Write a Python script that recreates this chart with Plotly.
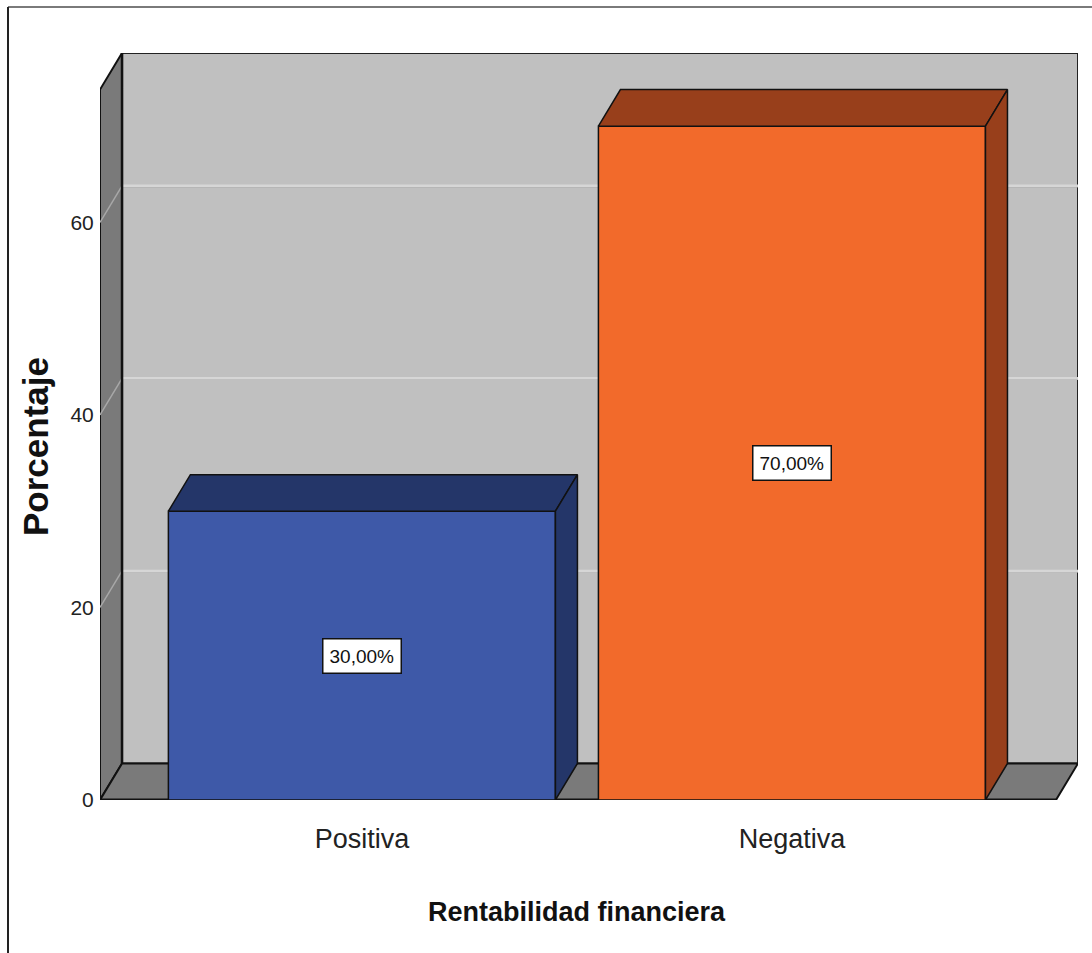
import plotly.graph_objects as go

# ---- data ----
categories = ["Positiva", "Negativa"]
percentages = [30.0, 70.0]
value_labels = ["30,00%", "70,00%"]
y_ticks = [0, 20, 40, 60]
x_title = "Rentabilidad financiera"
y_title = "Porcentaje"

# ---- style / layout constants ----
front_colors = ["#3E59A8", "#F26A2B"]
dark_colors = ["#243669", "#983F1B"]
WALL = "#C0C0C0"
SIDE = "#7A7A7A"
GRID = "#D6D6D6"
BAR_W = 0.9
DX, DY = 0.0512, 3.8          # 3-D depth offset in axis units
X0, X1 = -0.609, 1.614        # front plane extent (category units)
Y_TOP = 73.8                  # front plane top (percent units)
XR = [X0, X1 + DX]
YR = [0, Y_TOP + DY]
FONT = "Liberation Sans, Arial, sans-serif"

xs = list(range(len(categories)))


def path(pts):
    return "M " + " L ".join(f"{x},{y}" for x, y in pts) + " Z"


shapes = []
# back wall
shapes.append(dict(type="path", xref="x", yref="y", layer="below",
                   path=path([(X0 + DX, DY), (X1 + DX, DY), (X1 + DX, Y_TOP + DY), (X0 + DX, Y_TOP + DY)]),
                   fillcolor=WALL, line=dict(color="#222222", width=2)))
# back-wall gridlines (light band with a soft shadow)
for g in y_ticks[1:]:
    shapes.append(dict(type="line", xref="x", yref="y", layer="below",
                       x0=X0 + DX, x1=X1 + DX, y0=g + DY - 0.12, y1=g + DY - 0.12,
                       line=dict(color="#ABABAB", width=1)))
    shapes.append(dict(type="line", xref="x", yref="y", layer="below",
                       x0=X0 + DX, x1=X1 + DX, y0=g + DY, y1=g + DY,
                       line=dict(color=GRID, width=2.5)))
# left wall
shapes.append(dict(type="path", xref="x", yref="y", layer="below",
                   path=path([(X0, 0), (X0, Y_TOP), (X0 + DX, Y_TOP + DY), (X0 + DX, DY)]),
                   fillcolor=SIDE, line=dict(color="#111111", width=2)))
for g in y_ticks[1:]:
    shapes.append(dict(type="line", xref="x", yref="y", layer="below",
                       x0=X0, x1=X0 + DX, y0=g, y1=g + DY,
                       line=dict(color="#A8A8A8", width=1.5)))
# floor
shapes.append(dict(type="path", xref="x", yref="y", layer="below",
                   path=path([(X0, 0), (X1, 0), (X1 + DX, DY), (X0 + DX, DY)]),
                   fillcolor=SIDE, line=dict(color="#111111", width=2)))
shapes.append(dict(type="line", xref="x", yref="y", layer="below",
                   x0=X0, x1=X1, y0=0, y1=0, line=dict(color="#111111", width=3)))
# right edge of the left wall (dark line)
shapes.append(dict(type="line", xref="x", yref="y", layer="below",
                   x0=X0 + DX, x1=X0 + DX, y0=DY, y1=Y_TOP + DY, line=dict(color="#111111", width=2.5)))
# chart frame (top and left)
shapes.append(dict(type="line", xref="paper", yref="paper",
                   x0=(8 - 100) / 978, x1=1.02, y0=(800 - 7) / 747, y1=(800 - 7) / 747,
                   line=dict(color="#7A7A7A", width=2)))
shapes.append(dict(type="line", xref="paper", yref="paper",
                   x0=(8 - 100) / 978, x1=(8 - 100) / 978, y0=(800 - 7) / 747, y1=-0.25,
                   line=dict(color="#222222", width=2)))

fig = go.Figure()
fig.add_trace(go.Bar(x=xs, y=percentages, width=BAR_W,
                     marker=dict(color=front_colors, line=dict(color="#111111", width=1.5)),
                     hoverinfo="skip", showlegend=False))

for x, v, dc in zip(xs, percentages, dark_colors):
    l, r = x - BAR_W / 2, x + BAR_W / 2
    top = [(l, v), (r, v), (r + DX, v + DY), (l + DX, v + DY), (l, v)]
    side = [(r, 0), (r + DX, DY), (r + DX, v + DY), (r, v), (r, 0)]
    for poly in (top, side):
        fig.add_trace(go.Scatter(x=[p[0] for p in poly], y=[p[1] for p in poly],
                                 mode="lines", fill="toself", fillcolor=dc,
                                 line=dict(color="#111111", width=1.5),
                                 hoverinfo="skip", showlegend=False))

annotations = []
for x, v, t in zip(xs, percentages, value_labels):
    annotations.append(dict(x=x, y=v / 2, xref="x", yref="y", text=t, showarrow=False,
                            xanchor="center", yanchor="middle",
                            font=dict(family=FONT, size=19, color="#111111"),
                            bgcolor="white", bordercolor="#111111", borderwidth=1.5, borderpad=6))
annotations.append(dict(x=(35 - 100) / 978, y=(800 - 447) / 747, xref="paper", yref="paper",
                        xanchor="center", yanchor="middle",
                        text=f"<b>{y_title}</b>", textangle=-90, showarrow=False,
                        font=dict(family=FONT, size=35, color="#111111")))
annotations.append(dict(x=(577 - 100) / 978, y=(800 - 912) / 747, xref="paper", yref="paper",
                        xanchor="center", yanchor="middle",
                        text=f"<b>{x_title}</b>", showarrow=False,
                        font=dict(family=FONT, size=27, color="#111111")))

fig.update_layout(
    width=1092, height=953,
    margin=dict(l=100, r=14, t=53, b=153),
    paper_bgcolor="white", plot_bgcolor="white",
    shapes=shapes, annotations=annotations,
    xaxis=dict(range=XR, tickvals=xs, ticktext=categories, showgrid=False, zeroline=False,
               showline=False, ticks="outside", ticklen=15, tickcolor="rgba(0,0,0,0)",
               tickfont=dict(family=FONT, size=27, color="#222222"), fixedrange=True),
    yaxis=dict(range=YR, tickvals=y_ticks, showgrid=False, zeroline=False, showline=False,
               ticks="outside", ticklen=1, tickcolor="rgba(0,0,0,0)",
               tickfont=dict(family=FONT, size=21, color="#222222"), fixedrange=True),
)

fig.write_html("out.html")
